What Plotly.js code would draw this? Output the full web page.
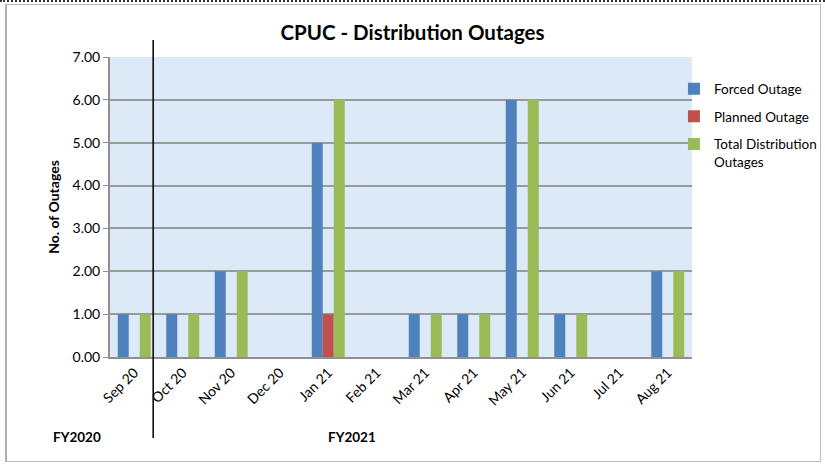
<!DOCTYPE html>
<html><head><meta charset="utf-8">
<script src="https://cdn.plot.ly/plotly-3.0.1.min.js"></script>
<style>
html,body{margin:0;padding:0;background:#fff;}
#frame{position:absolute;left:5px;top:4px;width:813px;height:456px;border:1px solid #bdbdbd;border-left:2px solid #b0b0b0;}
#dots{position:absolute;left:0;top:0;width:825px;height:0;border-top:2px dotted #333;}
#chart{position:absolute;left:0;top:0;width:825px;height:464px;}
</style></head>
<body>
<div id="dots"></div>
<div id="frame"></div>
<div id="chart"></div>
<script>
const months = ["Sep 20","Oct 20","Nov 20","Dec 20","Jan 21","Feb 21","Mar 21","Apr 21","May 21","Jun 21","Jul 21","Aug 21"];
const forced = [1,1,2,0,5,0,1,1,6,1,0,2];
const planned = [0,0,0,0,1,0,0,0,0,0,0,0];
const total = [1,1,2,0,6,0,1,1,6,1,0,2];
const yTicks = [0,1,2,3,4,5,6,7];

const font = "Lato, 'Open Sans', sans-serif";
const traces = [
  {type:'bar', name:'Forced Outage', legendgroup:'a', x:months, y:forced, marker:{color:'#4F81BD'}},
  {type:'bar', name:'Planned Outage', legendgroup:'b', x:months, y:planned, marker:{color:'#C0504D'}},
  {type:'bar', name:'Total Distribution<br>Outages', legendgroup:'c', x:months, y:total, marker:{color:'#9BBB59'}}
];
const layout = {
  width:825, height:464,
  margin:{l:110, r:133, t:57, b:107, autoexpand:false},
  paper_bgcolor:'rgba(0,0,0,0)',
  plot_bgcolor:'#dceaf8',
  barmode:'group', bargap:0.32, bargroupgap:0,
  font:{family:font, color:'#000'},
  title:{text:'<b>CPUC - Distribution Outages</b>', font:{size:20.5, family:font}, x:0.5, xanchor:'center', y:0.93, yanchor:'middle'},
  xaxis:{type:'category', tickangle:-45, tickfont:{size:14}, showline:true, linecolor:'#909090', linewidth:2, ticks:'', showgrid:false, zeroline:false},
  yaxis:{range:[0,7], tickvals:yTicks, tickformat:'.2f', tickfont:{size:14}, showgrid:true, gridcolor:'#9a9a9a', gridwidth:1.5,
         showline:true, linecolor:'#909090', linewidth:2, ticks:'outside', ticklen:5, tickcolor:'#909090', zeroline:false,
         title:{text:'<b>No. of Outages</b>', font:{size:14}, standoff:10}},
  legend:{x:0.969, y:0.945, xanchor:'left', yanchor:'top', valign:'top', font:{size:13.5}, bgcolor:'rgba(0,0,0,0)', tracegroupgap:7, itemwidth:30},
  showlegend:true,
  shapes:[{type:'line', xref:'x', yref:'paper', x0:0.39, x1:0.39, y0:-0.27, y1:1.057, line:{color:'#000', width:1.5}}],
  annotations:[
    {text:'<b>FY2020</b>', xref:'paper', yref:'paper', x:(77-110)/582, y:(357-437)/300, showarrow:false, font:{size:13.5}, xanchor:'center', yanchor:'middle'},
    {text:'<b>FY2021</b>', xref:'paper', yref:'paper', x:(352-110)/582, y:(357-437)/300, showarrow:false, font:{size:13.5}, xanchor:'center', yanchor:'middle'}
  ]
};
Plotly.newPlot('chart', traces, layout, {displayModeBar:false});
</script>
</body></html>
